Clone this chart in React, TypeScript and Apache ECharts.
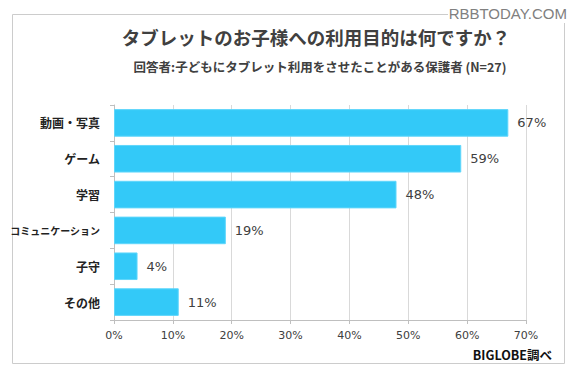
import React, { useEffect, useRef } from "react";
import * as echarts from "echarts";

const titleText = "タブレットのお子様への利用目的は何ですか？";
const subtitleText = "回答者:子どもにタブレット利用をさせたことがある保護者 (N=27)";
const sourceText = "BIGLOBE調べ";
const watermarkText = "RBBTODAY.COM";
const categories = ["動画・写真", "ゲーム", "学習", "コミュニケーション", "子守", "その他"];
const values = [67, 59, 48, 19, 4, 11];
const axisMin = 0;
const axisMax = 70;
const axisStep = 10;

const JP = "'Noto Sans CJK JP', 'Noto Sans', sans-serif";
const NUM = "'DejaVu Sans', 'Noto Sans CJK JP', sans-serif";

export default function App() {
  const ref = useRef<HTMLDivElement>(null);
  useEffect(() => {
    if (!ref.current) return;
    const chart = echarts.init(ref.current, null, { renderer: "svg" });
    chart.setOption({
      animation: false,
      backgroundColor: "#ffffff",
      grid: { left: 114, right: 47, top: 105, bottom: 57 },
      xAxis: {
        type: "value",
        min: axisMin,
        max: axisMax,
        interval: axisStep,
        axisLine: { show: true, lineStyle: { color: "#bfbfbf", width: 1 } },
        axisTick: { show: true, length: 4, lineStyle: { color: "#bfbfbf" } },
        splitLine: { show: true, lineStyle: { color: "#d9d9d9", width: 1 } },
        axisLabel: {
          formatter: "{value}%",
          color: "#404040",
          fontFamily: NUM,
          fontSize: 11,
          margin: 10,
        },
      },
      yAxis: {
        type: "category",
        data: categories,
        inverse: true,
        axisLine: { show: true, lineStyle: { color: "#bfbfbf", width: 1 } },
        axisTick: { show: true, length: 4, lineStyle: { color: "#bfbfbf" } },
        axisLabel: {
          color: "#222",
          fontFamily: JP,
          fontSize: 12,
          fontWeight: "bold",
          margin: 14,
          formatter: (v: string) => (v.length > 6 ? `{s|${v}}` : v),
          rich: {
            s: { fontSize: 10, fontWeight: "bold", fontFamily: JP, color: "#222" },
          },
        },
      },
      series: [
        {
          type: "bar",
          data: values,
          barCategoryGap: "23%",
          itemStyle: { color: "#33c9f8", borderColor: "#5fd6fb", borderWidth: 1 },
          label: {
            show: true,
            position: "right",
            distance: 9,
            formatter: "{c}%",
            color: "#404040",
            fontFamily: NUM,
            fontSize: 13,
          },
        },
      ],
      graphic: [
        {
          type: "rect",
          shape: { x: 12.5, y: 14.5, width: 552, height: 349 },
          style: { fill: "none", stroke: "#cccccc", lineWidth: 1 },
          silent: true,
        },
        {
          type: "rect",
          shape: { x: 448, y: 3, width: 122, height: 20 },
          style: { fill: "#ffffff" },
          silent: true,
        },
        {
          type: "text",
          x: 567,
          y: 13,
          style: {
            text: watermarkText,
            fill: "#808080",
            font: "15px 'Liberation Sans', sans-serif",
            align: "right",
            verticalAlign: "middle",
          },
          silent: true,
        },
        {
          type: "text",
          x: 316,
          y: 37,
          style: {
            text: titleText,
            fill: "#404040",
            font: `bold 18.5px ${JP}`,
            align: "center",
            verticalAlign: "middle",
          },
        },
        {
          type: "text",
          x: 320,
          y: 66,
          style: {
            text: subtitleText,
            fill: "#404040",
            font: `bold 12.5px ${JP}`,
            align: "center",
            verticalAlign: "middle",
          },
        },
        {
          type: "text",
          x: 552,
          y: 354,
          style: {
            text: sourceText,
            fill: "#111111",
            font: `bold 12.5px ${JP}`,
            align: "right",
            verticalAlign: "middle",
          },
        },
      ],
    });
    return () => chart.dispose();
  }, []);
  return (
    <div
      ref={ref}
      style={{ position: "fixed", left: 0, top: 0, width: 573, height: 377 }}
    />
  );
}
